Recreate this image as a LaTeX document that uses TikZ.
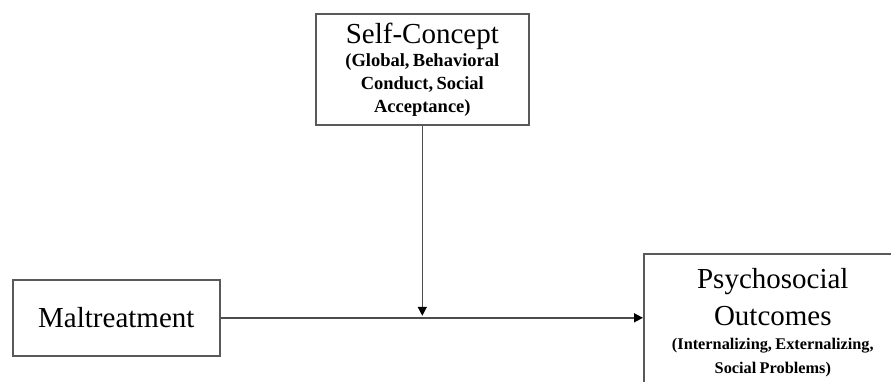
\documentclass[tikz,border=0pt]{standalone}
\usepackage{fontspec}
\setmainfont{Liberation Serif}
\usetikzlibrary{arrows.meta}

\newcommand{\titlefont}{\fontsize{29}{37}\selectfont}
\newcommand{\subfont}{\fontsize{18.5}{23}\selectfont\bfseries}
\newcommand{\outfont}{\fontsize{16.3}{24}\selectfont\bfseries}

\begin{document}
\begin{tikzpicture}[x=1pt, y=-1pt,
  box/.style={draw=black!65, line width=1.6pt, align=center, inner xsep=4pt},
  link/.style={draw=black!70, line width=1.5pt},
  tip/.style={-{Triangle[length=9pt, width=9pt, color=black]}}]
  %% canvas
  \useasboundingbox (0,0) rectangle (891,381);
  \clip (0,0) rectangle (891,381);
  %% moderator
  \node[box, anchor=north west, minimum width=213pt, minimum height=111pt,
    text width=200pt, inner ysep=2pt] (self) at (315,13)
    {{\titlefont Self-Concept\par}{\subfont (Global, Behavioral\\ Conduct, Social\\ Acceptance)\par}};
  %% predictor
  \node[box, anchor=north west, minimum width=207pt, minimum height=76pt] (malt) at (12,279)
    {\titlefont Maltreatment};
  %% outcome (runs off the page)
  \node[box, anchor=north west, minimum width=258pt, inner ysep=15pt,
    text width=250pt] (psych) at (643,253)
    {{\titlefont Psychosocial\\ Outcomes\par}{\outfont (Internalizing, Externalizing,\\ Social Problems)\par}};
  %% arrows
  \draw[link, tip] (malt.east) -- (malt.east -| psych.west);
  \draw[link, tip, shorten >=2pt] (self.south) -- (self.south |- malt.east);
\end{tikzpicture}
\end{document}
